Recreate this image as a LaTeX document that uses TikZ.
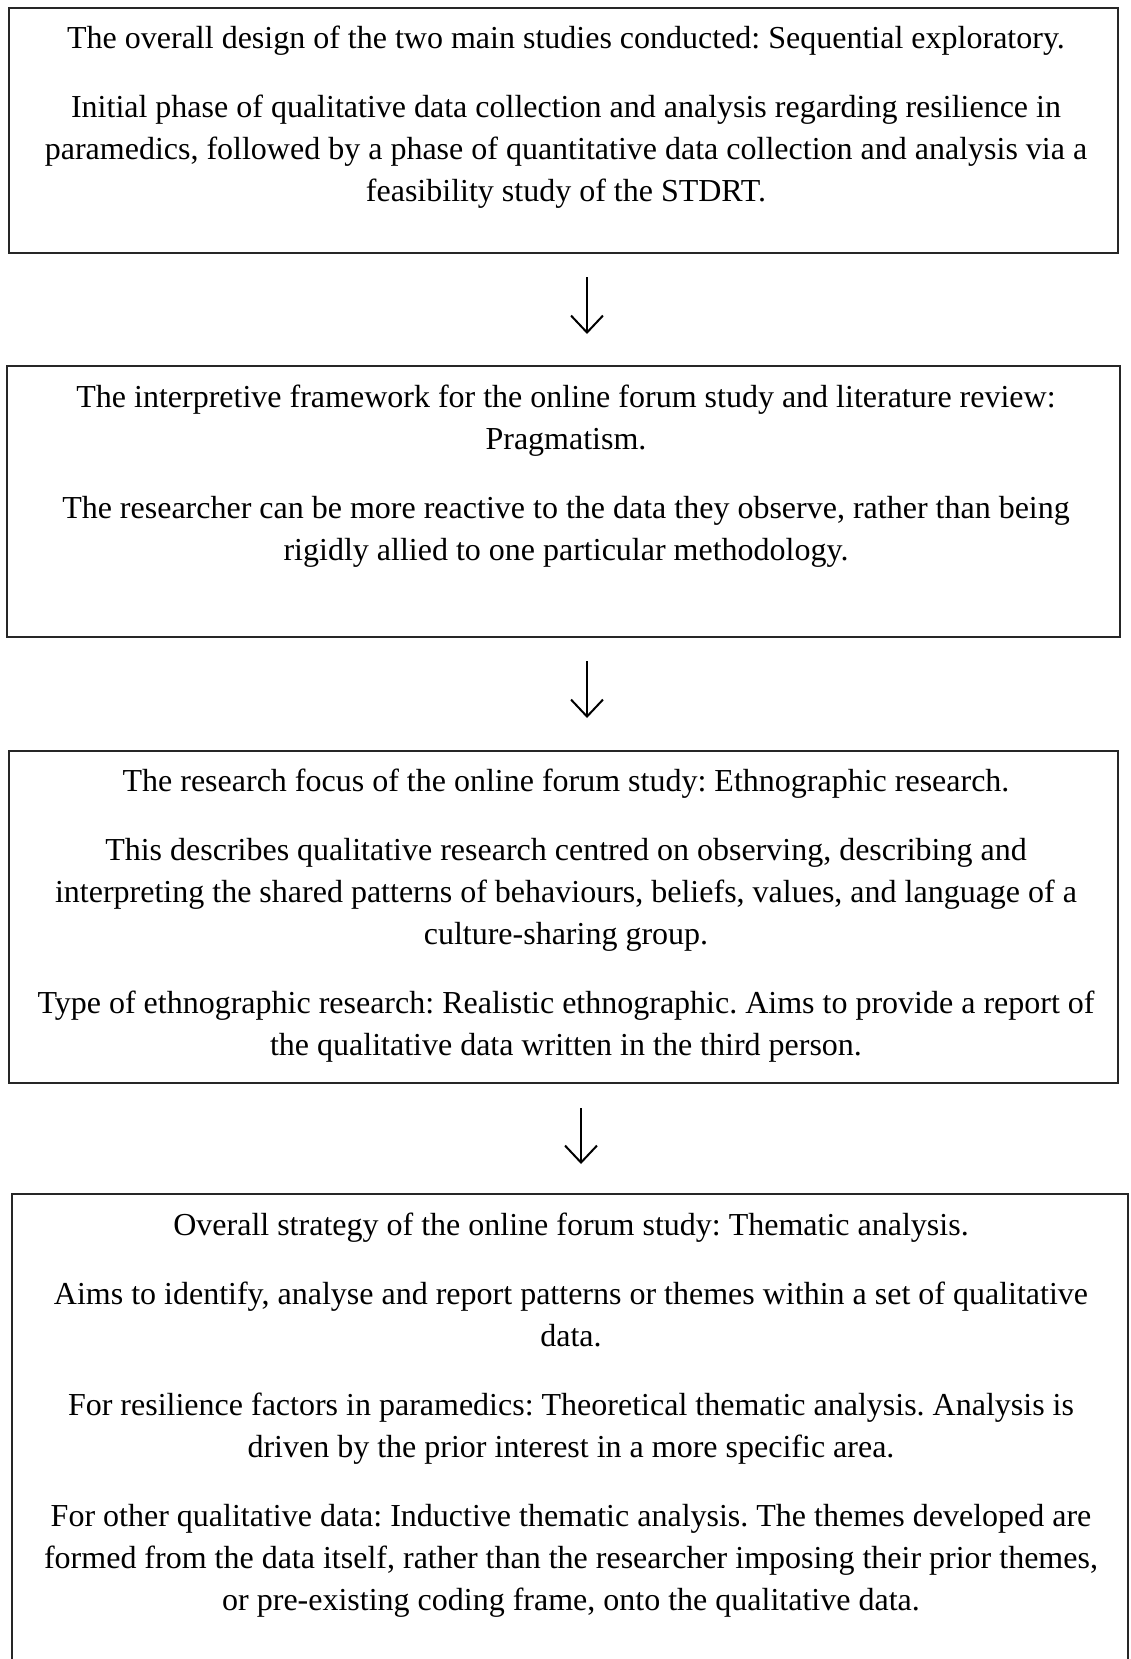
\documentclass[tikz,border=0pt]{standalone}
\usepackage{fontspec}
\setmainfont{Liberation Serif}
\usetikzlibrary{arrows.meta}
\frenchspacing
\begin{document}
\begin{tikzpicture}[x=1pt,y=-1pt,
  panel/.style={draw=black!85, line width=2pt, inner sep=0pt, outer sep=0pt},
  body/.style={anchor=base, inner sep=0pt, font=\fontsize{32}{42}\selectfont},
  flow/.style={draw=black, line width=2pt, -{Straight Barb[length=17pt,width=32pt,line width=2pt]}}]
\useasboundingbox (0,0) rectangle (1130,1659);
\newcommand{\pgap}{\\[27pt]}
\newcommand{\para}[1]{\parbox[t]{1115pt}{\centering #1}}

% boxes
\node[panel, minimum width=1109pt, minimum height=245pt] (b1) at (563.5,130.5) {};
\node[panel, minimum width=1113pt, minimum height=271pt] (b2) at (563.5,501.5) {};
\node[panel, minimum width=1109pt, minimum height=332pt] (b3) at (563.5,917) {};
\begin{scope}
\clip (0,0) rectangle (1130,1659);
\node[panel, minimum width=1116pt, minimum height=520pt] (b4) at (570,1454) {};
\end{scope}

% texts
\node[body] (t1) at (566,49) {\para{The overall design of the two main studies conducted: Sequential exploratory.\pgap
Initial phase of qualitative data collection and analysis regarding resilience in\\
paramedics, followed by a phase of quantitative data collection and analysis via a\\
feasibility study of the STDRT.}};

\node[body] (t2) at (566,407) {\para{The interpretive framework for the online forum study and literature review:\\
Pragmatism.\pgap
The researcher can be more reactive to the data they observe, rather than being\\
rigidly allied to one particular methodology.}};

\node[body] (t3) at (566,791) {\para{The research focus of the online forum study: Ethnographic research.\pgap
This describes qualitative research centred on observing, describing and\\
interpreting the shared patterns of behaviours, beliefs, values, and language of a\\
culture-sharing group.\pgap
Type of ethnographic research: Realistic ethnographic. Aims to provide a report of\\
the qualitative data written in the third person.}};

\node[body] (t4) at (571,1235) {\para{Overall strategy of the online forum study: Thematic analysis.\pgap
Aims to identify, analyse and report patterns or themes within a set of qualitative\\
data.\pgap
For resilience factors in paramedics: Theoretical thematic analysis. Analysis is\\
driven by the prior interest in a more specific area.\pgap
For other qualitative data: Inductive thematic analysis. The themes developed are\\
formed from the data itself, rather than the researcher imposing their prior themes,\\
or pre-existing coding frame, onto the qualitative data.}};

% arrows between stages
\coordinate (a1s) at (587,277);
\coordinate (a1e) at (587,334);
\coordinate (a2s) at (587,661);
\coordinate (a2e) at (587,718);
\coordinate (a3s) at (581,1108);
\coordinate (a3e) at (581,1164);
\draw[flow] (a1s) -- (a1e);
\draw[flow] (a2s) -- (a2e);
\draw[flow] (a3s) -- (a3e);
\end{tikzpicture}
\end{document}
